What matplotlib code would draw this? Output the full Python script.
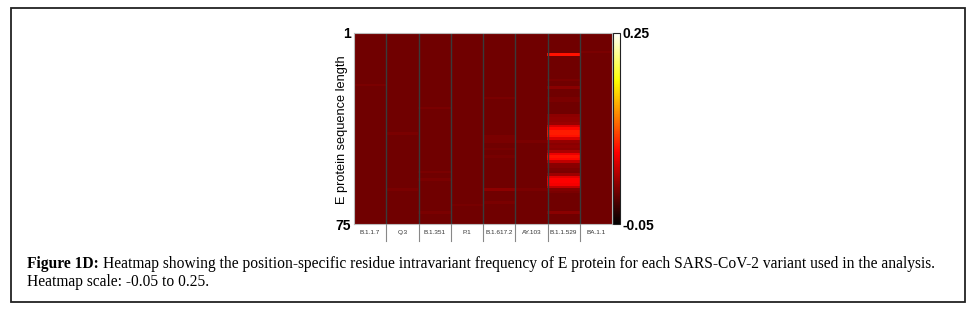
import numpy as np
import matplotlib
matplotlib.use("Agg")
import matplotlib.pyplot as plt
from matplotlib.colors import LinearSegmentedColormap
from matplotlib.patches import Rectangle

variants = ["B.1.1.7", "Q.3", "B.1.351", "P.1", "B.1.617.2", "AY.103", "B.1.1.529", "BA.1.1"]
n_pos = 75
vmin, vmax = -0.05, 0.25

# sparse non-zero frequencies per variant: {position index (0-based): value}
freq_B117 = {20: 0.005}
freq_Q3 = {39: 0.005, 61: 0.005}
freq_B1351 = {29: 0.004, 54: 0.004, 57: 0.004, 70: 0.004}
freq_P1 = {67: 0.003}
freq_B16172 = {25: 0.004, 40: 0.004, 41: 0.004, 42: 0.004, 45: 0.003, 48: 0.003, 61: 0.013, 66: 0.004}
freq_AY103 = {42: 0.004, 61: 0.004}
freq_B11529 = {8: 0.07, 18: 0.004, 21: 0.012, 25: 0.005, 26: 0.005,
               32: 0.013, 33: 0.015, 34: 0.015, 35: 0.018, 36: 0.045,
               37: 0.065, 38: 0.075, 39: 0.075, 40: 0.07, 41: 0.045,
               42: 0.016, 43: 0.012, 44: 0.014, 45: 0.012, 46: 0.025,
               47: 0.055, 48: 0.07, 49: 0.065, 50: 0.035,
               51: 0.012, 52: 0.01, 53: 0.006, 54: 0.004, 55: 0.02,
               56: 0.05, 57: 0.062, 58: 0.062, 59: 0.058, 60: 0.035,
               61: 0.008, 62: 0.005, 70: 0.012}
freq_BA11 = {7: 0.004}

columns = [freq_B117, freq_Q3, freq_B1351, freq_P1, freq_B16172, freq_AY103, freq_B11529, freq_BA11]

data = np.zeros((n_pos, len(variants)))
for j, col in enumerate(columns):
    for i, v in col.items():
        data[i, j] = v

# MATLAB-style hot colormap
hot_m = LinearSegmentedColormap.from_list("hotm", [
    (0.0, (0, 0, 0)), (0.375, (1, 0, 0)), (0.75, (1, 1, 0)), (1.0, (1, 1, 1))])

W, H = 976, 310
fig = plt.figure(figsize=(W / 100, H / 100), dpi=100)

def px(x0, y0, x1, y1):
    return [x0 / W, 1 - y1 / H, (x1 - x0) / W, (y1 - y0) / H]

# outer frame
fig.add_artist(Rectangle((11 / W, 1 - 302 / H), 954 / W, 294 / H, transform=fig.transFigure,
                         fill=False, edgecolor="#222222", linewidth=1.3))

ax = fig.add_axes(px(354, 33, 612, 224))
im = ax.imshow(data, cmap=hot_m, vmin=vmin, vmax=vmax, aspect="auto",
               interpolation="nearest", extent=(-0.5, len(variants) - 0.5, n_pos - 0.5, -0.5))
for k in range(1, len(variants)):
    ax.axvline(k - 0.5, color="#3a3a3a", linewidth=1.0)
ax.set_yticks([-0.5, n_pos - 0.5])
ax.set_yticklabels(["1", str(n_pos)], fontsize=10, fontweight="bold", family="Liberation Sans")
ax.tick_params(axis="y", length=0, pad=2)
ax.set_xticks(range(len(variants)))
ax.set_xticklabels(variants, fontsize=4.6, color="#333333", family="Liberation Sans")
ax.tick_params(axis="x", length=0, pad=4.5)
for s in ax.spines.values():
    s.set_color("#bbbbbb")
    s.set_linewidth(0.8)

fig.text(342 / W, 1 - 130 / H, "E protein sequence length", rotation=90, fontsize=9.2,
         family="Liberation Sans", ha="center", va="center")

# separators under the x tick labels
for k in range(1, len(variants)):
    xk = (354 + k * (258 / len(variants))) / W
    fig.add_artist(plt.Line2D([xk, xk], [1 - 224 / H, 1 - 241 / H], color="#888888", linewidth=0.8))

cax = fig.add_axes(px(613, 33, 620, 224))
cb = fig.colorbar(im, cax=cax)
cb.set_ticks([vmin, vmax])
cb.set_ticklabels(["-0.05", "0.25"])
cb.ax.tick_params(length=0, pad=2, labelsize=10)
for t in cb.ax.get_yticklabels():
    t.set_fontweight("bold")
    t.set_family("Liberation Sans")
cb.outline.set_edgecolor("#222222")
cb.outline.set_linewidth(0.8)

# caption
cap_fs = 11.2
t1 = fig.text(27 / W, 1 - 268 / H, "Figure 1D:", fontsize=cap_fs, fontweight="bold", family="Liberation Serif",
              va="baseline", ha="left")
fig.canvas.draw()
bb = t1.get_window_extent()
fig.text((bb.x1 + 4) / W, 1 - 268 / H,
         "Heatmap showing the position-specific residue intravariant frequency of E protein for each SARS-CoV-2 variant used in the analysis.",
         fontsize=cap_fs, family="Liberation Serif", va="baseline", ha="left")
fig.text(27 / W, 1 - 286 / H, "Heatmap scale: -0.05 to 0.25.", fontsize=cap_fs, family="Liberation Serif",
         va="baseline", ha="left")

fig.savefig("out.png", dpi=100)
